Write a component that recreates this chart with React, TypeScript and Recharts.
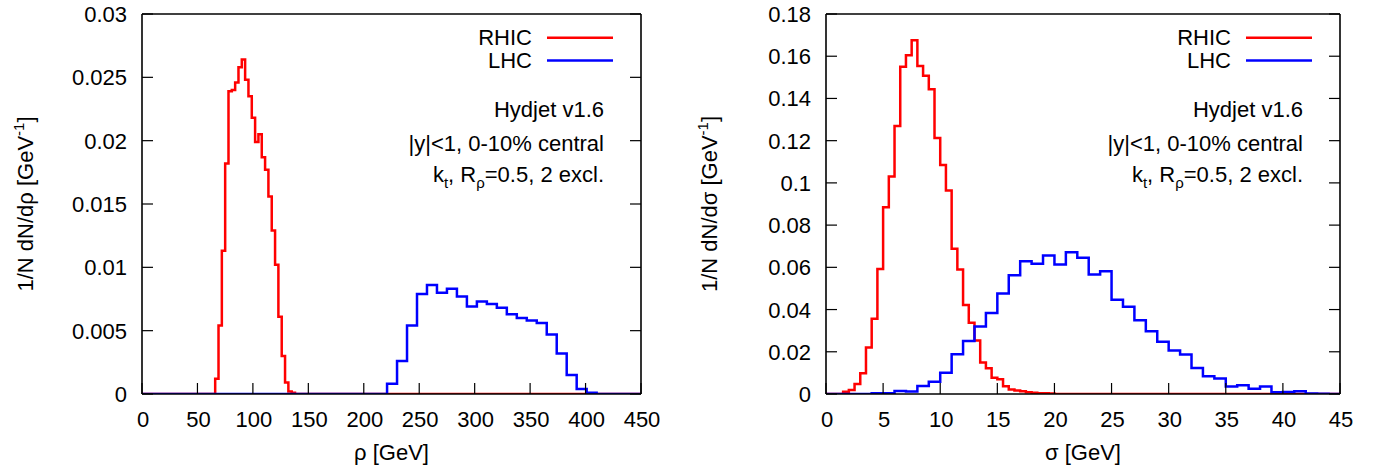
import React from "react";
import { LineChart, Line, XAxis, YAxis } from "recharts";

const FONT = "'Liberation Sans', Arial, Helvetica, sans-serif";
const FS = 22;
const TICK = 11;

// axis ticks
const rhoTicks = [0, 50, 100, 150, 200, 250, 300, 350, 400, 450];
const rhoDensityTicks = [0, 0.005, 0.01, 0.015, 0.02, 0.025, 0.03];
const sigmaTicks = [0, 5, 10, 15, 20, 25, 30, 35, 40, 45];
const sigmaDensityTicks = [0, 0.02, 0.04, 0.06, 0.08, 0.1, 0.12, 0.14, 0.16, 0.18];

// rho histograms (values per bin, bins start at firstEdge)
const rhicRhoFirstEdge = 66;
const rhicRhoBinWidth = 3;
const rhicRho = [
  0.0012, 0.0054, 0.0113, 0.0182, 0.0239, 0.024, 0.0246, 0.0258, 0.0264, 0.0248, 0.0235, 0.0218,
  0.0199, 0.0205, 0.0187, 0.0177, 0.0156, 0.0129, 0.0102, 0.0061, 0.003, 0.0009, 0.0002, 0.0001,
];

const lhcRhoFirstEdge = 221;
const lhcRhoBinWidth = 9;
const lhcRho = [
  0.0008, 0.0026, 0.0054, 0.0079, 0.0086, 0.008, 0.0083, 0.0077, 0.0069, 0.0073, 0.0071, 0.0068,
  0.0063, 0.006, 0.0058, 0.0056, 0.0047, 0.0032, 0.0015, 0.0004, 0.0001,
];

// sigma histograms
const rhicSigmaFirstEdge = 1.5;
const rhicSigmaBinWidth = 0.5;
const rhicSigma = [
  0.0011, 0.0019, 0.0047, 0.0098, 0.022, 0.0357, 0.0592, 0.0885, 0.103, 0.127, 0.155, 0.1605,
  0.1676, 0.1554, 0.1507, 0.1444, 0.1213, 0.1085, 0.0964, 0.0688, 0.059, 0.0422, 0.0337, 0.0254,
  0.0149, 0.0122, 0.0077, 0.007, 0.0037, 0.0021, 0.0016, 0.0013, 0.0008, 0.0006, 0.0004, 0.0003,
  0.0002,
];

const lhcSigmaFirstEdge = 4;
const lhcSigmaBinWidth = 1;
const lhcSigma = [
  0.0003, 0.0003, 0.0014, 0.0012, 0.0038, 0.0058, 0.0101, 0.0188, 0.0251, 0.032, 0.0384, 0.0476,
  0.0562, 0.0629, 0.0617, 0.0656, 0.0613, 0.0672, 0.0645, 0.0566, 0.0582, 0.0447, 0.0413, 0.0349,
  0.0297, 0.0247, 0.0206, 0.0187, 0.0123, 0.0084, 0.0074, 0.0036, 0.0041, 0.0025, 0.0036, 0.0008,
  0.0009, 0.0013, 0.0002, 0.0001,
];

type Hist = { name: string; color: string; firstEdge: number; binWidth: number; values: number[] };

// turn bin values into stepAfter points, flat at zero elsewhere
function toSteps(h: Hist, xMax: number) {
  const pts = [{ x: 0, y: 0 }];
  h.values.forEach((v, i) => pts.push({ x: h.firstEdge + i * h.binWidth, y: v }));
  pts.push({ x: h.firstEdge + h.values.length * h.binWidth, y: 0 });
  pts.push({ x: xMax, y: 0 });
  return pts;
}

const tickLine = { stroke: "#000", strokeWidth: 1.2 };
const frame = { stroke: "#000", strokeWidth: 1.6 };

const BottomTick = (p: any) => (
  <g>
    <line x1={p.x} y1={p.y} x2={p.x} y2={p.y - TICK} {...tickLine} />
    <text x={p.x + 1} y={p.y + 33} textAnchor="middle" fontSize={FS} fontFamily={FONT} fill="#000">
      {String(p.payload.value)}
    </text>
  </g>
);
const TopTick = (p: any) => <line x1={p.x} y1={p.y} x2={p.x} y2={p.y + TICK} {...tickLine} />;
const LeftTick = (p: any) => (
  <g>
    <line x1={p.x} y1={p.y} x2={p.x + TICK} y2={p.y} {...tickLine} />
    <text x={p.x - 15} y={p.y + 8} textAnchor="end" fontSize={FS} fontFamily={FONT} fill="#000">
      {String(p.payload.value)}
    </text>
  </g>
);
const RightTick = (p: any) => <line x1={p.x} y1={p.y} x2={p.x - TICK} y2={p.y} {...tickLine} />;

const W = 692;
const H = 470;
const PLOT_TOP = 14;
const PLOT_BOTTOM = 394;

interface PanelProps {
  left: number;
  plotLeft: number;
  plotRight: number;
  xMax: number;
  xTicks: number[];
  yMax: number;
  yTicks: number[];
  symbol: string;
  series: Hist[];
}

function Panel({ left, plotLeft, plotRight, xMax, xTicks, yMax, yTicks, symbol, series }: PanelProps) {
  const midX = (plotLeft + plotRight) / 2;
  const midY = (PLOT_TOP + PLOT_BOTTOM) / 2;
  const yTitleX = plotLeft - 109;
  return (
    <div style={{ position: "absolute", left, top: 0, width: W, height: H }}>
      <LineChart
        width={W}
        height={H}
        margin={{ top: PLOT_TOP - 1, bottom: H - PLOT_BOTTOM - 1, left: plotLeft - 1, right: W - plotRight - 1 }}
      >
        <XAxis
          dataKey="x"
          type="number"
          domain={[0, xMax]}
          ticks={xTicks}
          interval={0}
          allowDataOverflow
          height={1}
          tickSize={0}
          tickMargin={0}
          tickLine={false}
          axisLine={frame}
          tick={BottomTick}
        />
        <XAxis
          xAxisId="t"
          orientation="top"
          type="number"
          domain={[0, xMax]}
          ticks={xTicks}
          interval={0}
          allowDataOverflow
          height={1}
          tickSize={0}
          tickMargin={0}
          tickLine={false}
          axisLine={frame}
          tick={TopTick}
        />
        <YAxis
          type="number"
          domain={[0, yMax]}
          ticks={yTicks}
          interval={0}
          allowDataOverflow
          width={1}
          tickSize={0}
          tickMargin={0}
          tickLine={false}
          axisLine={frame}
          tick={LeftTick}
        />
        <YAxis
          yAxisId="r"
          orientation="right"
          type="number"
          domain={[0, yMax]}
          ticks={yTicks}
          interval={0}
          allowDataOverflow
          width={1}
          tickSize={0}
          tickMargin={0}
          tickLine={false}
          axisLine={frame}
          tick={RightTick}
        />
        {series.map((s) => (
          <Line
            key={s.name}
            data={toSteps(s, xMax)}
            dataKey="y"
            name={s.name}
            type="stepAfter"
            stroke={s.color}
            strokeWidth={2.5}
            dot={false}
            activeDot={false}
            isAnimationActive={false}
          />
        ))}
      </LineChart>
      <svg
        width={W}
        height={H}
        style={{ position: "absolute", left: 0, top: 0, pointerEvents: "none" }}
        fontFamily={FONT}
        fontSize={FS}
        fill="#000"
      >
        {series.map((s, i) => (
          <g key={s.name}>
            <text x={plotRight - 109} y={45 + i * 22.7} textAnchor="end">
              {s.name}
            </text>
            <line
              x1={plotRight - 94}
              x2={plotRight - 28}
              y1={37.7 + i * 22.7}
              y2={37.7 + i * 22.7}
              stroke={s.color}
              strokeWidth={2.5}
            />
          </g>
        ))}
        <text x={plotRight - 37} y={117} textAnchor="end">
          Hydjet v1.6
        </text>
        <text x={plotRight - 37} y={150.5} textAnchor="end">
          |y|&lt;1, 0-10% central
        </text>
        <text x={plotRight - 37} y={181.5} textAnchor="end">
          k
          <tspan fontSize={15} dy={6}>t</tspan>
          <tspan dy={-6}>, R</tspan>
          <tspan fontSize={15} dy={6}>ρ</tspan>
          <tspan dy={-6}>=0.5, 2 excl.</tspan>
        </text>
        <text x={midX} y={460} textAnchor="middle">
          {symbol} [GeV]
        </text>
        <text x={yTitleX} y={midY} textAnchor="middle" transform={`rotate(-90, ${yTitleX}, ${midY})`}>
          1/N dN/d{symbol} [GeV
          <tspan fontSize={15} dy={-9}>-1</tspan>
          <tspan dy={9}>]</tspan>
        </text>
      </svg>
    </div>
  );
}

export default function App() {
  const rhoSeries: Hist[] = [
    { name: "RHIC", color: "#ff0000", firstEdge: rhicRhoFirstEdge, binWidth: rhicRhoBinWidth, values: rhicRho },
    { name: "LHC", color: "#0000ff", firstEdge: lhcRhoFirstEdge, binWidth: lhcRhoBinWidth, values: lhcRho },
  ];
  const sigmaSeries: Hist[] = [
    { name: "RHIC", color: "#ff0000", firstEdge: rhicSigmaFirstEdge, binWidth: rhicSigmaBinWidth, values: rhicSigma },
    { name: "LHC", color: "#0000ff", firstEdge: lhcSigmaFirstEdge, binWidth: lhcSigmaBinWidth, values: lhcSigma },
  ];
  return (
    <div style={{ position: "absolute", left: 0, top: 0, width: 1384, height: 470, background: "#fff" }}>
      <Panel
        left={0}
        plotLeft={142}
        plotRight={641}
        xMax={450}
        xTicks={rhoTicks}
        yMax={0.03}
        yTicks={rhoDensityTicks}
        symbol="ρ"
        series={rhoSeries}
      />
      <Panel
        left={692}
        plotLeft={134}
        plotRight={648}
        xMax={45}
        xTicks={sigmaTicks}
        yMax={0.18}
        yTicks={sigmaDensityTicks}
        symbol="σ"
        series={sigmaSeries}
      />
    </div>
  );
}
